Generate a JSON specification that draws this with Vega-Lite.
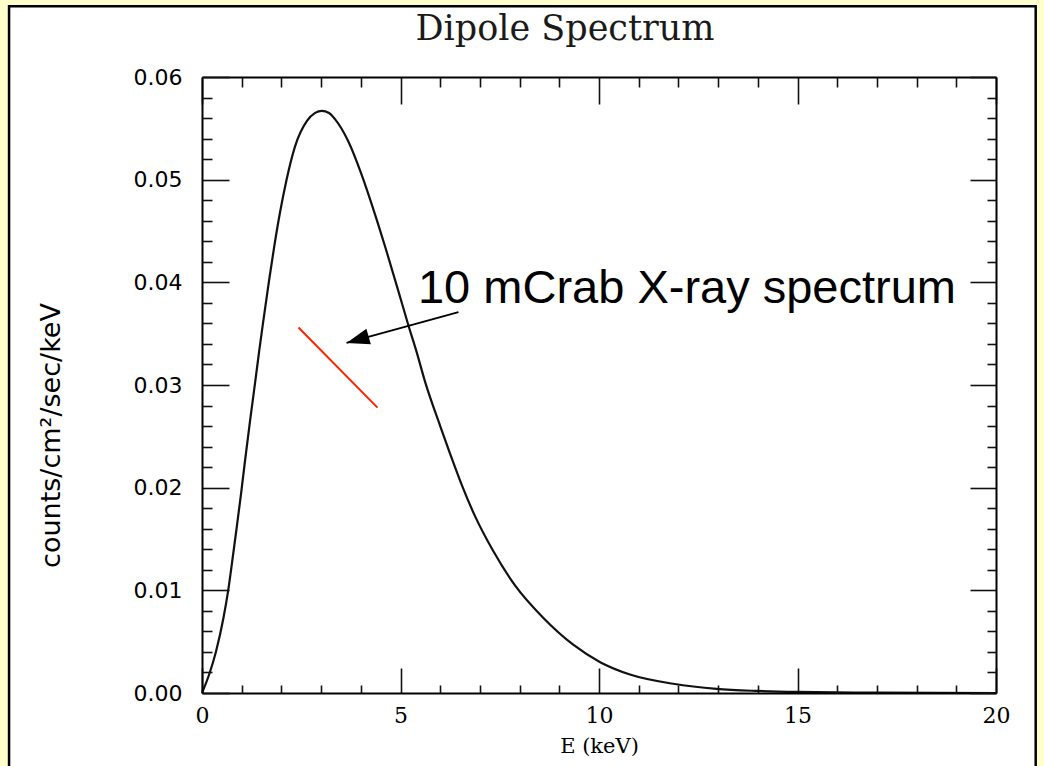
{
  "$schema": "https://vega.github.io/schema/vega-lite/v6.json",
  "width": 794,
  "height": 616,
  "autosize": {"type": "none"},
  "padding": {"left": 202, "top": 77, "right": 48, "bottom": 73},
  "background": "#FFFFCC",
  "config": {
    "view": {"stroke": null},
    "axis": {"grid": false, "domainColor": "#000", "domainWidth": 2, "tickColor": "#111", "tickWidth": 1.6, "labelColor": "#000", "titleColor": "#000", "labelFlush": false, "labelOverlap": false}
  },
  "title": {"text": "Dipole Spectrum", "font": "DejaVu Serif", "fontSize": 35, "fontWeight": "normal", "color": "#1a1a1a", "anchor": "middle", "dx": -34, "offset": -42, "zindex": 2},
  "datasets": {
    "spectrum": [
      {"E": 0, "v": 0},
      {"E": 0.18, "v": 0.0018},
      {"E": 0.35, "v": 0.0040},
      {"E": 0.54, "v": 0.0073},
      {"E": 0.66, "v": 0.0100},
      {"E": 0.76, "v": 0.0128},
      {"E": 0.87, "v": 0.0160},
      {"E": 0.98, "v": 0.0193},
      {"E": 1.08, "v": 0.0225},
      {"E": 1.21, "v": 0.0265},
      {"E": 1.34, "v": 0.0303},
      {"E": 1.44, "v": 0.0333},
      {"E": 1.55, "v": 0.0364},
      {"E": 1.69, "v": 0.0402},
      {"E": 1.82, "v": 0.0435},
      {"E": 1.96, "v": 0.0467},
      {"E": 2.13, "v": 0.0500},
      {"E": 2.34, "v": 0.0532},
      {"E": 2.64, "v": 0.0557},
      {"E": 2.85, "v": 0.0565},
      {"E": 3.02, "v": 0.0567},
      {"E": 3.2, "v": 0.0565},
      {"E": 3.35, "v": 0.0559},
      {"E": 3.69, "v": 0.0537},
      {"E": 4.02, "v": 0.0505},
      {"E": 4.36, "v": 0.0466},
      {"E": 4.65, "v": 0.0430},
      {"E": 4.95, "v": 0.0391},
      {"E": 5.2, "v": 0.0358},
      {"E": 5.4, "v": 0.0333},
      {"E": 5.62, "v": 0.0303},
      {"E": 6.0, "v": 0.0260},
      {"E": 6.25, "v": 0.0233},
      {"E": 6.54, "v": 0.0203},
      {"E": 6.88, "v": 0.0172},
      {"E": 7.34, "v": 0.0138},
      {"E": 7.88, "v": 0.0105},
      {"E": 8.6, "v": 0.0073},
      {"E": 9.35, "v": 0.0047},
      {"E": 10.03, "v": 0.0030},
      {"E": 10.78, "v": 0.0018},
      {"E": 11.87, "v": 0.0009},
      {"E": 12.96, "v": 0.0004},
      {"E": 14.0, "v": 0.0002},
      {"E": 15.0, "v": 0.0001},
      {"E": 17.0, "v": 0.00003},
      {"E": 20.0, "v": 0.0}
    ],
    "crab": [
      {"E": 2.43, "v": 0.0356},
      {"E": 4.42, "v": 0.0278}
    ],
    "arrow": [
      {"E": 6.46, "v": 0.0371, "E2": 3.64, "v2": 0.0341}
    ],
    "note": [
      {"E": 5.44, "v": 0.0380, "text": "10 mCrab X-ray spectrum"}
    ]
  },
  "layer": [
    {
      "data": {"values": [{}]},
      "mark": {"type": "rect", "fill": "white", "stroke": "#000", "strokeWidth": 2.5},
      "encoding": {
        "x": {"datum": -4.86, "type": "quantitative", "axis": null, "scale": {"domain": [0, 20], "nice": false, "zero": false}},
        "x2": {"datum": 21.0},
        "y": {"datum": 0.0669, "type": "quantitative", "axis": null, "scale": {"domain": [0, 0.06], "nice": false, "zero": false}},
        "y2": {"datum": -0.012}
      }
    },
    {
      "data": {"name": "spectrum"},
      "mark": {"type": "line", "color": "#111", "strokeWidth": 2.2, "interpolate": "monotone"},
      "encoding": {
        "x": {"field": "E", "type": "quantitative", "axis": {"orient": "bottom", "zindex": 2, "values": [0, 5, 10, 15, 20], "format": "d", "tickSize": -25, "labelPadding": 37, "labelFont": "DejaVu Serif", "labelFontSize": 22, "title": "E (keV)", "titleFont": "DejaVu Serif", "titleFontSize": 21, "titleFontWeight": "normal", "titlePadding": 9}},
        "y": {"field": "v", "type": "quantitative", "axis": {"orient": "left", "zindex": 2, "values": [0, 0.01, 0.02, 0.03, 0.04, 0.05, 0.06], "format": ".2f", "tickSize": -27, "labelPadding": 47, "labelFont": "DejaVu Sans", "labelFontSize": 22, "title": "counts/cm²/sec/keV", "titleFont": "DejaVu Sans", "titleFontSize": 27, "titleFontWeight": 500, "titlePadding": 68, "titleY": 358}}
      }
    },
    {
      "data": {"name": "spectrum"},
      "mark": {"type": "line", "opacity": 0},
      "encoding": {
        "x": {"field": "E", "type": "quantitative", "axis": {"orient": "bottom", "zindex": 2, "values": [1, 2, 3, 4, 6, 7, 8, 9, 11, 12, 13, 14, 16, 17, 18, 19], "tickSize": -8, "labels": false, "domain": false, "title": null}},
        "y": {"field": "v", "type": "quantitative", "axis": {"orient": "left", "zindex": 2, "values": [0.002, 0.004, 0.006, 0.008, 0.012, 0.014, 0.016, 0.018, 0.022, 0.024, 0.026, 0.028, 0.032, 0.034, 0.036, 0.038, 0.042, 0.044, 0.046, 0.048, 0.052, 0.054, 0.056, 0.058], "tickSize": -10, "labels": false, "domain": false, "title": null}}
      }
    },
    {
      "data": {"name": "spectrum"},
      "mark": {"type": "line", "opacity": 0},
      "encoding": {
        "x": {"field": "E", "type": "quantitative", "axis": {"orient": "top", "zindex": 2, "values": [0, 5, 10, 15, 20], "tickSize": -27, "labels": false, "domain": true, "title": null}},
        "y": {"field": "v", "type": "quantitative", "axis": {"orient": "right", "zindex": 2, "values": [0, 0.01, 0.02, 0.03, 0.04, 0.05, 0.06], "tickSize": -26, "labels": false, "domain": true, "title": null}}
      }
    },
    {
      "data": {"name": "spectrum"},
      "mark": {"type": "line", "opacity": 0},
      "encoding": {
        "x": {"field": "E", "type": "quantitative", "axis": {"orient": "top", "zindex": 2, "values": [1, 2, 3, 4, 6, 7, 8, 9, 11, 12, 13, 14, 16, 17, 18, 19], "tickSize": -10, "labels": false, "domain": false, "title": null}},
        "y": {"field": "v", "type": "quantitative", "axis": {"orient": "right", "zindex": 2, "values": [0.002, 0.004, 0.006, 0.008, 0.012, 0.014, 0.016, 0.018, 0.022, 0.024, 0.026, 0.028, 0.032, 0.034, 0.036, 0.038, 0.042, 0.044, 0.046, 0.048, 0.052, 0.054, 0.056, 0.058], "tickSize": -9, "labels": false, "domain": false, "title": null}}
      }
    },
    {
      "data": {"name": "crab"},
      "mark": {"type": "line", "color": "#FF2200", "strokeWidth": 2},
      "encoding": {
        "x": {"field": "E", "type": "quantitative", "axis": null},
        "y": {"field": "v", "type": "quantitative", "axis": null}
      }
    },
    {
      "data": {"name": "arrow"},
      "mark": {"type": "rule", "color": "#000", "strokeWidth": 2},
      "encoding": {
        "x": {"field": "E", "type": "quantitative", "axis": null},
        "y": {"field": "v", "type": "quantitative", "axis": null},
        "x2": {"field": "E2"},
        "y2": {"field": "v2"}
      }
    },
    {
      "data": {"name": "arrow"},
      "mark": {"type": "point", "shape": "M0,0L-2,-0.7L-2,0.7Z", "filled": true, "color": "#000", "opacity": 1, "size": 529, "angle": 164},
      "encoding": {
        "x": {"field": "E2", "type": "quantitative", "axis": null},
        "y": {"field": "v2", "type": "quantitative", "axis": null}
      }
    },
    {
      "data": {"name": "note"},
      "mark": {"type": "text", "font": "Liberation Sans", "fontSize": 47, "align": "left", "baseline": "alphabetic", "color": "#000"},
      "encoding": {
        "x": {"field": "E", "type": "quantitative", "axis": null},
        "y": {"field": "v", "type": "quantitative", "axis": null},
        "text": {"field": "text"}
      }
    }
  ],
  "resolve": {"axis": {"x": "independent", "y": "independent"}}
}
